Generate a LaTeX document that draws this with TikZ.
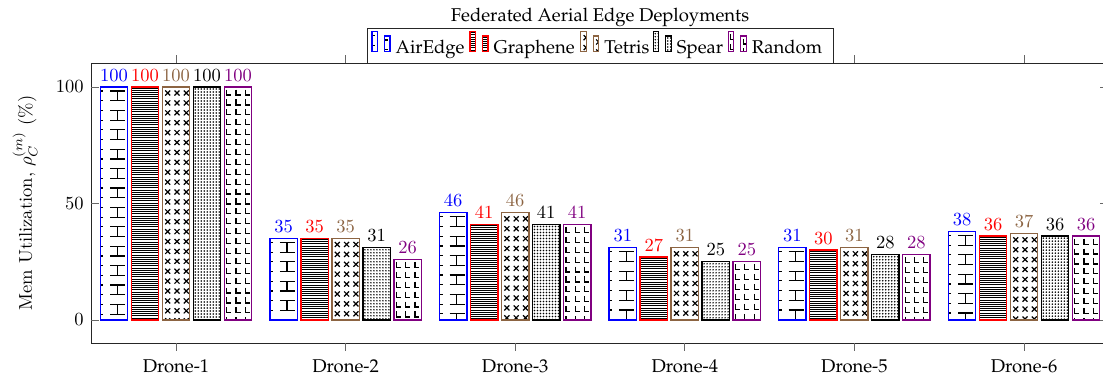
\documentclass[tikz,border=0pt]{standalone}

\definecolor{ser0}{RGB}{0,0,255}
\definecolor{ser1}{RGB}{255,0,0}
\definecolor{ser2}{RGB}{140,100,66}
\definecolor{ser3}{RGB}{0,0,0}
\definecolor{ser4}{RGB}{128,0,128}

\newcommand\palfont{\fontencoding{OT1}\fontfamily{ppl}\selectfont}

\tikzset{
  x=0.5405pt, y=-0.5405pt,
  axisline/.style={line width=0.5pt, black!85},
  tickline/.style={line width=0.4pt, black!60},
  barbox/.style={line width=0.7pt},
  hatchmark/.style={line width=0.65pt, black},
  vallabel/.style={anchor=base, inner sep=0pt},
  legtext/.style={anchor=base west, inner sep=0pt},
}

% hatching of one bar: #1 series, #2 left, #3 top, #4 right, #5 bottom
\newcommand\barfill[5]{%
  \begin{scope}
    \clip (#2,#3) rectangle (#4,#5);
    \ifcase#1
      % bricks
      \pgfmathtruncatemacro\nrow{(#5-#3)/19.4}
      \foreach \k in {0,...,\nrow} {
        \draw[hatchmark] (#2+10,#3+4+\k*19.4) -- (#2+25,#3+4+\k*19.4)
                    (#2+10,#3+13.7+\k*19.4) -- (#2+25,#3+13.7+\k*19.4)
                    (#2+17,#3+4+\k*19.4) -- (#2+17,#3+13.7+\k*19.4)
                    (#2,#3+4+\k*19.4) -- (#2+3,#3+4+\k*19.4)
                    (#2,#3+13.7+\k*19.4) -- (#2+3,#3+13.7+\k*19.4);
      }
    \or
      % dense horizontal lines
      \pgfmathtruncatemacro\nrow{(#5-#3)/2.17}
      \foreach \k in {0,...,\nrow} {
        \draw[line width=0.5pt, black] (#2,#3+1+\k*2.17) -- (#4,#3+1+\k*2.17);
      }
    \or
      % small crosses
      \pgfmathtruncatemacro\nrow{(#5-#3)/9.9}
      \foreach \k in {0,...,\nrow} {
        \foreach \c in {5.4,14.7,24} {
          \draw[hatchmark] (#2+\c-2.5,#3+6+\k*9.9-2.5) -- (#2+\c+2.5,#3+6+\k*9.9+2.5)
                      (#2+\c-2.5,#3+6+\k*9.9+2.5) -- (#2+\c+2.5,#3+6+\k*9.9-2.5);
        }
      }
    \or
      % dot grid
      \pgfmathtruncatemacro\nrow{(#5-#3)/3}
      \foreach \k in {0,...,\nrow} {
        \fill[black] \foreach \c in {0,...,8} {(#2+2+\c*3,#3+2+\k*3) circle[radius=0.46pt]};
      }
    \or
      % corner marks
      \pgfmathtruncatemacro\nrow{(#5-#3)/9.9}
      \foreach \k in {0,...,\nrow} {
        \foreach \c in {2.4,11.7,21} {
          \draw[hatchmark] (#2+\c,#3+2.5+\k*9.9) -- (#2+\c,#3+8+\k*9.9) -- (#2+\c+4.5,#3+8+\k*9.9);
        }
      }
    \fi
  \end{scope}%
}

\begin{document}
\begin{tikzpicture}
\useasboundingbox (0,0) rectangle (1103,377);

% axis frame
\draw[axisline] (91,63) rectangle (1108,343);

% y ticks and labels
\foreach \v/\yy in {0/320, 50/203.5, 100/87} {
  \draw[tickline] (91,\yy) -- (99,\yy);
  \draw[tickline] (1108,\yy) -- (1100,\yy);
  \node[anchor=east, inner sep=0pt] (yt-\v) at (84,\yy) {$\v$};
}

% x ticks and labels
\foreach \d in {1,...,6} {
  \pgfmathsetmacro\xx{176+(\d-1)*169.6}
  \draw[tickline] (\xx,343) -- (\xx,351);
  \draw[tickline] (\xx,63) -- (\xx,55);
  \node[anchor=base, inner sep=0pt] (xt-\d) at (\xx,372.5) {\palfont Drone-\d};
}

% y axis label
\node[rotate=90] (ylab) at (25,203) {Mem Utilization, $\rho_C^{(m)}$ (\%)};

% bars with value labels
\foreach \d/\vals in {1/{100,100,100,100,100}, 2/{35,35,35,31,26},
                      3/{46,41,46,41,41}, 4/{31,27,31,25,25},
                      5/{31,30,31,28,28}, 6/{38,36,37,36,36}} {
  \foreach \v [count=\i from 0] in \vals {
    \pgfmathsetmacro\cx{176+(\d-1)*169.6+(\i-2)*31}
    \pgfmathsetmacro\lx{\cx-13.7}
    \pgfmathsetmacro\rx{\cx+13.7}
    \pgfmathsetmacro\ty{320-2.33*\v}
    \fill[white] (\lx,320) rectangle (\rx,\ty);
    \barfill{\i}{\lx}{\ty}{\rx}{320}
    \draw[barbox, draw=ser\i] (\lx,320) rectangle (\rx,\ty);
    \node[vallabel, text=ser\i] (lab-\d-\i) at (\cx,\ty-6) {$\v$};
  }
}

% title
\node[anchor=base, inner sep=0pt] (title) at (600,21) {\palfont Federated Aerial Edge Deployments};

% legend
\draw[axisline, fill=white] (367,28) rectangle (833,63);
\foreach \xo/\name [count=\i from 0] in {372/AirEdge, 470/Graphene, 580.7/Tetris, 653.3/Spear, 728.3/Random} {
  \pgfmathsetmacro\xa{\xo+5.5}
  \pgfmathsetmacro\xb{\xo+12.5}
  \pgfmathsetmacro\xc{\xo+18}
  \barfill{\i}{\xo}{31.7}{\xa}{51.7}
  \draw[line width=0.6pt, draw=ser\i] (\xo,51.7) rectangle (\xa,31.7);
  \barfill{\i}{\xb}{36}{\xc}{51.7}
  \draw[line width=0.6pt, draw=ser\i] (\xb,51.7) rectangle (\xc,36);
  \node[legtext] (leg-\i) at (\xo+23.3,53) {\palfont \name};
}
\end{tikzpicture}
\end{document}
